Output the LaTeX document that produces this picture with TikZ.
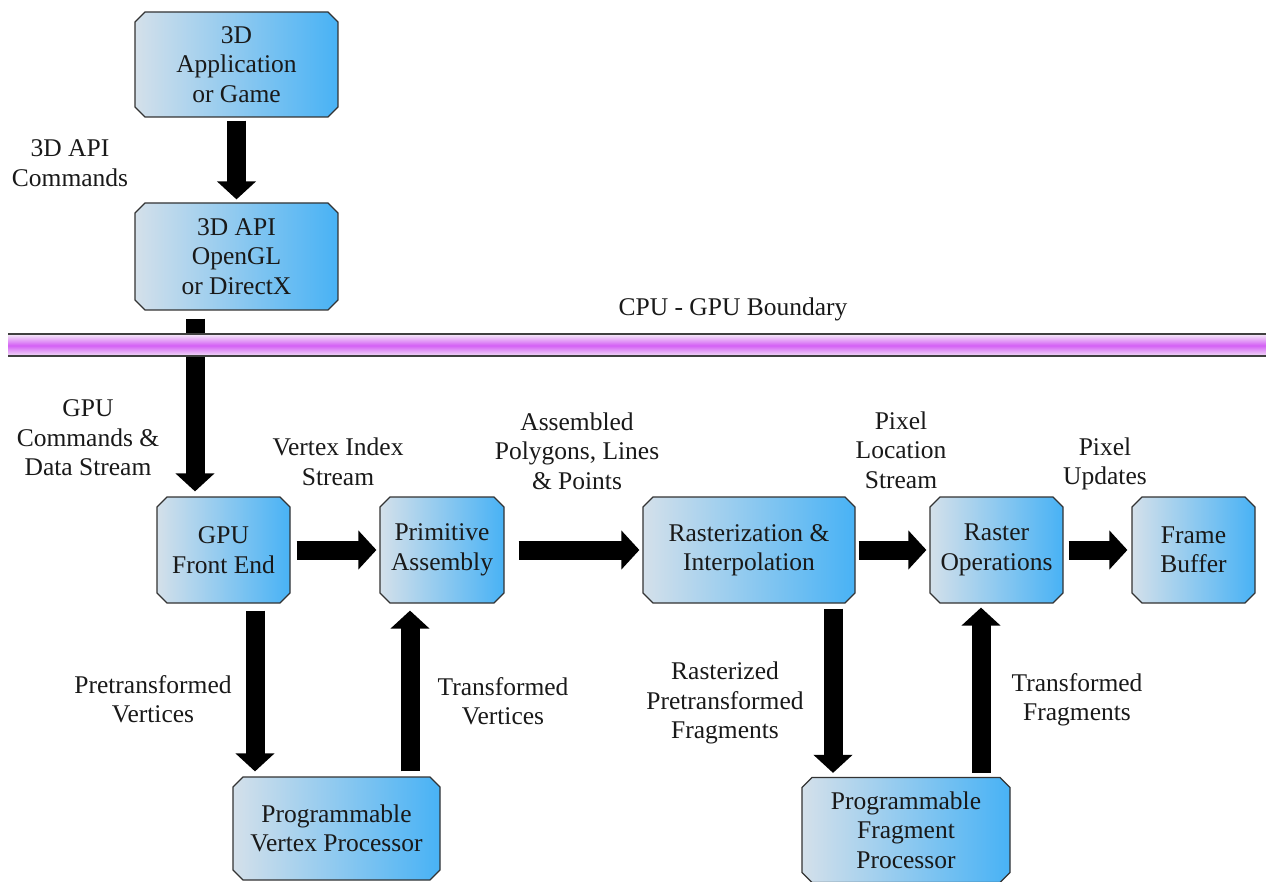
\documentclass[tikz,border=0pt]{standalone}
\usepackage{fontspec}
\setmainfont{Liberation Serif}
\usetikzlibrary{shapes.misc,arrows.meta,calc}
\definecolor{boxleft}{RGB}{212,224,234}
\definecolor{boxright}{RGB}{72,178,245}
\definecolor{bandmid}{RGB}{212,96,245}
\definecolor{bandedge}{RGB}{242,224,247}
\begin{document}
\begin{tikzpicture}[x=1pt,y=-1pt,
  every node/.style={font=\fontsize{25.5}{29.5}\selectfont, text=black!90},
  stage/.style={chamfered rectangle, chamfered rectangle xsep=5pt,
    chamfered rectangle ysep=5pt, draw=black!80, line width=1.2pt,
    left color=boxleft, right color=boxright, align=center, inner sep=0pt},
  bigarrow/.style={line width=19pt, -{Triangle[length=18pt,width=38pt]}, black},
  caption/.style={align=center}]
\useasboundingbox (0,0) rectangle (1266,882);

% pipeline stages
\node[stage, minimum width=203pt, minimum height=105pt] (app) at (236.5,64.5) {3D\\Application\\or Game};
\node[stage, minimum width=203pt, minimum height=107pt] (api) at (236.5,256.5) {3D API\\OpenGL\\or DirectX};
\node[stage, minimum width=133pt, minimum height=106pt] (fe) at (223.5,550) {GPU\\Front End};
\node[stage, minimum width=124pt, minimum height=106pt] (pa) at (442,550) {Primitive\\Assembly};
\node[stage, minimum width=212pt, minimum height=106pt] (ri) at (749,550) {Rasterization \&\\Interpolation};
\node[stage, minimum width=133pt, minimum height=106pt] (ro) at (996.5,550) {Raster\\Operations};
\node[stage, minimum width=123pt, minimum height=106pt] (fb) at (1193.5,550) {Frame\\Buffer};
\node[stage, minimum width=207pt, minimum height=103pt] (vp) at (336.5,828.5) {Programmable\\Vertex Processor};
\node[stage, minimum width=208pt, minimum height=105pt] (fp) at (906,830) {Programmable\\Fragment\\Processor};

% columns of the vertical arrows
\coordinate (xfe) at (255,0);
\coordinate (xpa) at (410,0);
\coordinate (xri) at (833,0);
\coordinate (xro) at (981,0);

% data flow
\draw[bigarrow, shorten <=3pt, shorten >=3pt] (app.south) -- (api.north);
\draw[bigarrow] ([xshift=-41.5pt,yshift=-8pt]api.south) -- ([xshift=-28.5pt,yshift=5pt]fe.north);
\draw[bigarrow, shorten <=6pt, shorten >=3pt] (fe.east) -- (pa.west);
\draw[bigarrow, shorten <=14pt, shorten >=3pt] (pa.east) -- (ri.west);
\draw[bigarrow, shorten <=3pt, shorten >=3pt] (ri.east) -- (ro.west);
\draw[bigarrow, shorten <=5pt, shorten >=4pt] (ro.east) -- (fb.west);
\draw[bigarrow, shorten <=7pt, shorten >=5pt] (fe.south -| xfe) -- (vp.north -| xfe);
\draw[bigarrow, shorten <=5pt, shorten >=7pt] (vp.north -| xpa) -- (pa.south -| xpa);
\draw[bigarrow, shorten <=5pt, shorten >=4pt] (ri.south -| xri) -- (fp.north -| xri);
\draw[bigarrow, shorten <=4pt, shorten >=4pt] (fp.north -| xro) -- (ro.south -| xro);

% CPU - GPU boundary band
\shade[top color=bandedge, bottom color=bandedge, middle color=bandmid] (8,335) rectangle (1266,356);
\draw[line width=2pt, black!75] (8,334) -- (1266,334);
\draw[line width=2pt, black!75] (8,356) -- (1266,356);
\node (bnd) at (733,309) {CPU - GPU Boundary};

% stream labels
\node[caption] (c1) at (70,163) {3D API\\Commands};
\node[caption] (c2) at (88,438) {GPU\\Commands \&\\Data Stream};
\node[caption] (c3) at (338,462) {Vertex Index\\Stream};
\node[caption] (c4) at (577,451) {Assembled\\Polygons, Lines\\\& Points};
\node[caption] (c5) at (901,450) {Pixel\\Location\\Stream};
\node[caption] (c6) at (1105,464) {Pixel\\Updates};
\node[caption] (c7) at (153,699) {Pretransformed\\Vertices};
\node[caption] (c8) at (503,701) {Transformed\\Vertices};
\node[caption] (c9) at (725,703) {Rasterized\\Pretransformed\\Fragments};
\node[caption] (c10) at (1077,700) {Transformed\\Fragments};
\end{tikzpicture}
\end{document}
